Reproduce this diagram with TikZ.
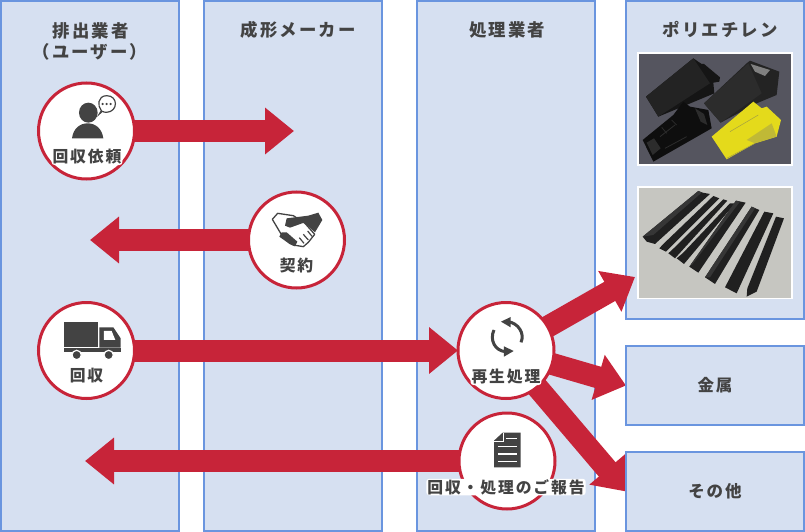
\documentclass[tikz,border=0pt]{standalone}
\usepackage{fontspec}
\setmainfont[LetterSpace=12]{Noto Sans CJK JP}
\usetikzlibrary{arrows.meta,shapes.geometric}
\definecolor{colfill}{HTML}{D6E0F1}
\definecolor{colline}{HTML}{6A95DF}
\definecolor{redc}{HTML}{C72439}
\definecolor{ink}{HTML}{434343}
\definecolor{carpet}{HTML}{55555F}
\definecolor{concrete}{HTML}{C6C6C1}
\definecolor{stickA}{HTML}{202020}
\definecolor{stickB}{HTML}{363636}
\definecolor{chockA}{HTML}{151515}
\definecolor{chockB}{HTML}{232323}
\definecolor{chockC}{HTML}{2C2C2C}
\definecolor{chockD}{HTML}{0E0E0E}
\pgfdeclarelayer{bk}
\pgfdeclarelayer{ar}
\pgfsetlayers{bk,ar,main}
\tikzset{
  x=1pt,y=-1pt,
  colbox/.style={draw=colline,line width=2.4pt,fill=colfill,rectangle,inner sep=0pt,outer sep=0pt,text=ink,font=\fontsize{16.5}{16.5}\selectfont\bfseries},
  hub/.style={circle,draw=redc,line width=3pt,fill=white,minimum size=96pt,inner sep=0pt,outer sep=0pt},
  fat/.style={line width=22pt,redc,-{Triangle[length=29pt,width=45pt]}},
  head/.style={text=ink,inner sep=0pt,font=\fontsize{17.4}{17.4}\selectfont\bfseries},
  lab/.style={text=ink,fill=white,rounded corners=3pt,inner xsep=1pt,inner ysep=0.5pt,font=\fontsize{15.8}{15.8}\selectfont\bfseries},
  icon/.style={fill=ink,draw=none},
  pix/.style={shift={(#1)},x=0.3333pt,y=-0.3333pt},
}
\begin{document}
\begin{tikzpicture}
\useasboundingbox (0,0) rectangle (805,532);
\begin{pgfonlayer}{bk}
\fill[white] (0,0) rectangle (805,532);
\node[colbox,minimum width=178pt,minimum height=530pt,anchor=north west] (col1) at (1,1) {};
\node[colbox,minimum width=178pt,minimum height=530pt,anchor=north west] (col2) at (204,1) {};
\node[colbox,minimum width=178pt,minimum height=530pt,anchor=north west] (col3) at (417,1) {};
\node[colbox,minimum width=178pt,minimum height=318pt,anchor=north west] (col4) at (626,1) {};
% photo 1
\begin{scope}[pix={630,40}]
\fill[white] (21,37) rectangle (489,378);
\fill[carpet] (27,42) rectangle (483,372);
% wedge top left
\fill[chockA] (48,170)--(190,55)--(215,72)--(222,72)--(270,112)--(268,125)--(250,128)--(253,160)--(85,230)--cycle;
\fill[chockB] (48,170)--(190,55)--(240,130)--(85,230)--cycle;
% wedge top right
\fill[chockB] (222,190)--(350,70)--(360,62)--(448,95)--(440,165)--(380,190)--(272,248)--cycle;
\fill[chockC] (222,190)--(355,70)--(395,160)--(272,248)--cycle;
\fill[black!50] (362,72)--(420,90)--(405,108)--(375,95)--cycle;
% wedge bottom left
\fill[chockD] (38,300)--(130,225)--(160,185)--(180,200)--(235,210)--(245,265)--(70,365)--cycle;
\fill[chockC] (50,308)--(72,295)--(92,325)--(68,345)--cycle;
\draw[chockC,line width=0.8pt] (90,290)--(135,255) (105,325)--(170,290) (95,262)--(110,280) (125,240)--(140,255);
\fill[chockC] (195,205)--(222,222)--(232,255)--(212,245)--cycle;
% yellow chock
\fill[yellow!88!black] (245,290)--(370,185)--(395,205)--(410,200)--(453,240)--(440,290)--(375,310)--(290,358)--cycle;
\fill[yellow!72!black] (375,310)--(440,290)--(425,250)--(350,300)--cycle;
\draw[yellow!60!black,line width=0.5pt] (300,275)--(385,225) (290,355)--(375,310);
\end{scope}
% photo 2
\begin{scope}[pix={630,40}]
\fill[white] (21,438) rectangle (489,778);
\fill[concrete] (27,444) rectangle (483,773);
\fill[stickA] (38,590)--(65,568)--(205,453)--(218,458)--(240,462)--(75,612)--(50,605)--cycle;
\fill[stickB] (38,590)--(65,568)--(205,453)--(215,458)--(70,585)--cycle;
\fill[stickA] (88,625)--(100,612)--(250,468)--(268,475)--(108,635)--cycle;
\fill[stickA] (115,640)--(128,628)--(280,478)--(292,482)--(135,655)--cycle;
\fill[stickA] (140,655)--(158,640)--(300,490)--(315,490)--(162,672)--cycle;
\fill[stickA] (178,680)--(318,482)--(347,488)--(205,698)--cycle;
\fill[stickB] (178,680)--(318,482)--(330,485)--(188,672)--cycle;
\fill[stickA] (225,712)--(365,500)--(388,510)--(255,732)--cycle;
\fill[stickB] (225,712)--(365,500)--(375,505)--(240,712)--cycle;
\fill[stickA] (285,742)--(403,515)--(430,520)--(320,760)--cycle;
\fill[stickA] (350,770)--(352,745)--(438,530)--(462,535)--(380,755)--cycle;
\end{scope}
\end{pgfonlayer}

\node[colbox,minimum width=178pt,minimum height=79pt,anchor=north west] (metal) at (626,346) {金属};
\node[colbox,minimum width=178pt,minimum height=79pt,anchor=north west] (other) at (626,452) {その他};

\node[head] (h1a) at (90.5,31) {排出業者};
\node[head] (h1b) at (90,52) {（ユーザー）};
\node[head] (h2) at (298,30) {成形メーカー};
\node[head] (h3) at (507,30) {処理業者};
\node[head] (h4) at (720,29) {ポリエチレン};

\node[hub] (c1) at (86.5,131) {};
\node[hub] (c2) at (296.5,240) {};
\node[hub] (c3) at (86.5,350.5) {};
\node[hub] (c4) at (506,350.5) {};
\node[hub] (c5) at (507,461) {};

\coordinate (t1) at (294,131);
\coordinate (t2) at (90,240);
\coordinate (t4) at (85,461);
\coordinate (t5) at (635,277);

\begin{pgfonlayer}{ar}
\draw[fat] (c1.center) -- (t1);
\draw[fat] (c2.center) -- (t2);
\draw[fat] (c3.center) -- (c4.west);
\draw[fat] (c5.center) -- (t4);
\draw[fat] (c4.center) -- (t5);
\draw[fat] (c4.center) -- (metal.west);
\draw[fat] (c4.center) -- (other.west);
\end{pgfonlayer}

\node[lab] (l1) at (87,157) {回収依頼};
\node[lab] (l2) at (296.5,266) {契約};
\node[lab] (l3) at (86.5,376) {回収};
\node[lab] (l4) at (506,377) {再生処理};
\node[lab] (l5) at (506,487) {回収・処理のご報告};

% person
\begin{scope}[pix={20,70}]
\fill[icon] (205,128) ellipse [x radius=28,y radius=30];
\fill[icon] (156,205) .. controls (160,175) and (180,160) .. (203,160) .. controls (226,160) and (246,175) .. (250,205) -- cycle;
\draw[ink,line width=1.2pt,fill=white] (244,122) .. controls (232,108) and (232,78) .. (260,77) .. controls (295,77) and (295,125) .. (260,127) .. controls (255,127) and (250,126) .. (247,124) -- (238,132) -- cycle;
\fill[ink] (248,102) circle (3.5) (260,102) circle (3.5) (272,102) circle (3.5);
\end{scope}
% handshake
\begin{scope}[pix={240,185}]
\draw[ink,line width=1.3pt,fill=white,line join=round] (97,103)--(113,85)--(160,92)--(195,115)--(224,148)--(205,172)--(190,185)--(160,180)--(125,150)--cycle;
\fill[icon] (140,100)--(205,92)--(235,83)--(247,105)--(225,142)--(192,113)--(150,128)--(135,122)--cycle;
\fill[icon] (125,142)--(140,142)--(172,170)--(165,184)--(150,178)--(118,155)--cycle;
\draw[ink,line width=1.2pt] (190,148)--(205,165) (178,158)--(192,175) (203,138)--(216,154);
\end{scope}
% truck
\begin{scope}[pix={30,295}]
\fill[icon] (102,82) rectangle (203,155);
\fill[icon] (102,158) rectangle (272,171);
\fill[icon] (208,97)--(250,97)--(272,130)--(272,158)--(208,158)--cycle;
\fill[white] (222,108)--(245,108)--(256,135)--(222,135)--cycle;
\draw[white,line width=1.2pt,fill=ink] (140,180) circle (14);
\draw[white,line width=1.2pt,fill=ink] (236,180) circle (14);
\end{scope}
% recycle
\begin{scope}[pix={420,270}]
\draw[ink,line width=3pt] (265,155) .. controls (295,160) and (315,190) .. (303,217);
\fill[icon] (243,155)--(272,141)--(272,172)--cycle;
\draw[ink,line width=3pt] (222,180) .. controls (208,210) and (225,243) .. (257,245);
\fill[icon] (281,243)--(252,229)--(252,260)--cycle;
\end{scope}
% document
\begin{scope}[pix={420,270}]
\fill[icon] (222,512)--(248,488)--(302,488)--(302,592)--(222,592)--cycle;
\draw[white,line width=1pt] (222,514)--(250,514)--(250,490);
\draw[white,line width=1.2pt] (258,506)--(290,506) (234,530)--(290,530) (234,552)--(290,552) (234,574)--(290,574);
\end{scope}
\end{tikzpicture}
\end{document}
